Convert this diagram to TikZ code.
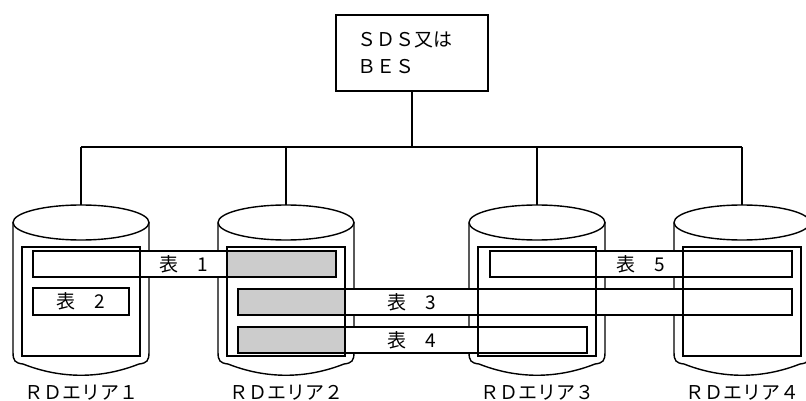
\documentclass[tikz,border=0pt]{standalone}
\usepackage{fontspec}
\newfontfamily\jp{Noto Sans CJK JP}
\definecolor{barg}{RGB}{204,204,204}
\begin{document}
\begin{tikzpicture}[x=1pt,y=-1pt,line width=1.4pt,
  lbl/.style={font=\jp\fontsize{19}{26.5}\selectfont,inner sep=0pt},
  frm/.style={draw,line width=1.4pt},
  whitebar/.style={draw,fill=white},
  graybar/.style={draw,fill=barg}]
\useasboundingbox (0,0) rectangle (806,401);
% top box
\node[draw,lbl,minimum width=152pt,minimum height=76pt,text width=110pt,inner xsep=21pt,align=left] (box) at (412,53) {ＳＤＳ又は\\ＢＥＳ};
\coordinate (bus) at (412,147);
\coordinate (busL) at (81,147);
\coordinate (busR) at (742,147);
\draw (box.south) -- (bus);
\draw (busL) -- (busR);
% cylinders
\foreach \c/\n in {81/1,286/2,537/3,742/4}{
  \coordinate (t\n) at (\c,205);
  \coordinate (b\n) at (\c,147);
  \draw (b\n) -- (t\n);
  \draw[fill=white] ({\c-68},222.5) -- ({\c-68},352)
     .. controls ({\c-68},361) and ({\c-66},363) .. ({\c-58},364)
     .. controls ({\c-20},379) and ({\c+20},379) .. ({\c+58},364)
     .. controls ({\c+66},363) and ({\c+68},361) .. ({\c+68},352)
     -- ({\c+68},222.5);
  \draw[fill=white] (\c,222.5) ellipse [x radius=68pt, y radius=17.5pt];
  \node[lbl] (rd\n) at (\c,393) {ＲＤエリア\ifcase\n\or １\or ２\or ３\or ４\fi};
}
% bars
\draw[whitebar] (33,251) rectangle (336,277);
\draw[graybar] (227,251) rectangle (336,277);
\draw[whitebar] (33,288) rectangle (129,315);
\draw[whitebar] (238,289) rectangle (792,315);
\draw[graybar] (238,289) rectangle (345,315);
\draw[whitebar] (238,327) rectangle (587,353);
\draw[graybar] (238,327) rectangle (345,353);
\draw[whitebar] (490,251) rectangle (792,277);
% frames
\foreach \c in {81,286,537,742}{
  \draw[frm] ({\c-59},247) rectangle ({\c+59},356);
}
% table labels
\node[lbl] (t1l) at (184,264) {表　1};
\node[lbl] (t2l) at (81,301.5) {表　2};
\node[lbl] (t3l) at (412,302) {表　3};
\node[lbl] (t4l) at (412,340) {表　4};
\node[lbl] (t5l) at (641,264) {表　5};
\end{tikzpicture}
\end{document}
